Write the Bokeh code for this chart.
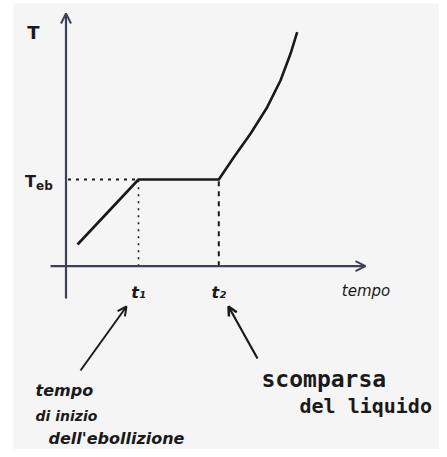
from bokeh.plotting import figure
from bokeh.models import Arrow, OpenHead, Range1d
from bokeh.core.properties import value
from bokeh.embed import file_html
from bokeh.resources import INLINE

# Heating curve (arbitrary units)
time = [0.575, 3.625, 7.64, 8.39, 9.225, 10.06, 10.725, 11.225, 11.56]
temp = [1.085, 4.335, 4.335, 5.45, 6.62, 7.95, 9.285, 10.62, 11.7]
t1 = 3.625
t2 = 7.64
T_eb = 4.335

tick_labels = ["t₁", "t₂"]
axis_labels = ["T", "tempo"]
note_left = ["tempo", "di inizio", "dell'ebollizione"]
note_right = ["scomparsa", "del liquido"]

ink = "#1a1a1a"
axis_col = "#3c4254"
font = value("DejaVu Sans")
mono = value("DejaVu Sans Mono")

p = figure(width=439, height=449, x_range=Range1d(-2.625, 18.675),
           y_range=Range1d(-9.165, 13.135), output_backend="svg",
           toolbar_location=None, min_border_left=13, min_border_right=0,
           min_border_top=3, min_border_bottom=0)
p.axis.visible = False
p.grid.visible = False
p.outline_line_color = None
p.background_fill_color = "#f5f5f5"
p.border_fill_color = "white"

# axes with arrow heads
p.add_layout(Arrow(end=OpenHead(size=10, line_color=axis_col, line_width=2),
                   x_start=0, y_start=-1.615, x_end=0, y_end=12.635,
                   line_color=axis_col, line_width=2.2))
p.add_layout(Arrow(end=OpenHead(size=10, line_color=axis_col, line_width=2),
                   x_start=-0.775, y_start=0, x_end=14.975, y_end=0,
                   line_color=axis_col, line_width=2.2))

# guide lines
p.line([0.1, t1], [T_eb, T_eb], line_color=ink, line_width=2, line_dash="3 5")
p.line([t1, t1], [0, T_eb], line_color=ink, line_width=1.6, line_dash="2 5")
p.line([t2, t2], [0, T_eb], line_color=ink, line_width=2, line_dash="5 5")

# curve
p.line(time, temp, line_color=ink, line_width=2.6, line_join="round")

# annotation arrows
p.add_layout(Arrow(end=OpenHead(size=9, line_color=ink, line_width=2),
                   x_start=0.725, y_start=-5.215, x_end=3.025, y_end=-2.015,
                   line_color=ink, line_width=2))
p.add_layout(Arrow(end=OpenHead(size=9, line_color=ink, line_width=2.5),
                   x_start=9.575, y_start=-4.615, x_end=8.125, y_end=-2.015,
                   line_color=ink, line_width=2.2))

# labels
p.text(x=[-1.625], y=[11.685], text=[axis_labels[0]], text_font=font,
       text_font_style="bold", text_font_size="18px", text_color=ink,
       text_align="center", text_baseline="middle")
p.text(x=[-1.5], y=[4.235], text=["T"], text_font=font, text_font_style="bold",
       text_font_size="16px", text_color=ink, text_align="right", text_baseline="middle")
p.text(x=[-1.5], y=[4.035], text=["eb"], text_font=font, text_font_style="bold",
       text_font_size="12px", text_color=ink, text_align="left", text_baseline="middle")
p.text(x=[t1, t2], y=[-1.315, -1.315], text=tick_labels, text_font=font,
       text_font_style="bold italic", text_font_size="16px", text_color=ink,
       text_align="center", text_baseline="middle")
p.text(x=[15.0], y=[-1.25], text=[axis_labels[1]], text_font=font,
       text_font_style="italic", text_font_size="15px", text_color=ink,
       text_align="center", text_baseline="middle")

p.text(x=[-1.525], y=[-6.215], text=[note_left[0]], text_font=font,
       text_font_style="bold italic", text_font_size="16px", text_color=ink,
       text_align="left", text_baseline="middle")
p.text(x=[-1.525], y=[-7.5], text=[note_left[1]], text_font=font,
       text_font_style="bold italic", text_font_size="14px", text_color=ink,
       text_align="left", text_baseline="middle")
p.text(x=[-0.875], y=[-8.6], text=[note_left[2]], text_font=font,
       text_font_style="bold italic", text_font_size="16px", text_color=ink,
       text_align="left", text_baseline="middle")
p.text(x=[9.775], y=[-5.615], text=[note_right[0]], text_font=mono,
       text_font_style="bold", text_font_size="23px", text_color=ink,
       text_align="left", text_baseline="middle")
p.text(x=[11.675], y=[-6.965], text=[note_right[1]], text_font=mono,
       text_font_style="bold", text_font_size="20px", text_color=ink,
       text_align="left", text_baseline="middle")

open("out.html", "w").write(file_html(p, INLINE))
